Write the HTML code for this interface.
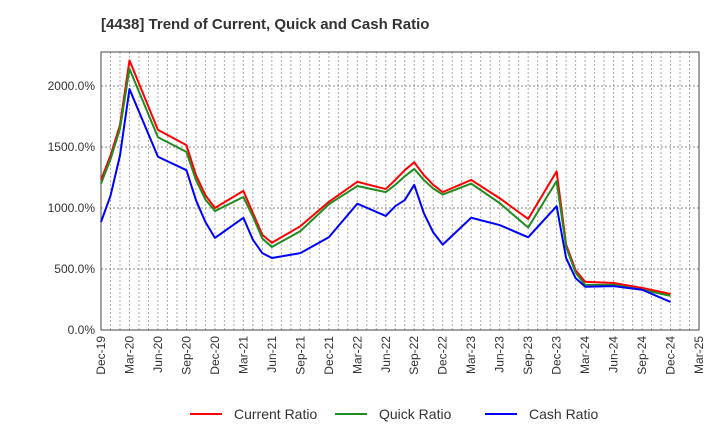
<!DOCTYPE html>
<html><head><meta charset="utf-8"><style>
body{margin:0;background:#fff;font-family:"Liberation Sans",sans-serif;}
svg text{font-family:"Liberation Sans",sans-serif;}
</style></head><body>
<svg id="chart" width="720" height="440">
<text x="101" y="29" font-size="15" font-weight="bold" fill="#333">[4438]  Trend of Current, Quick and Cash Ratio</text>
<g id="grid"></g><g id="axes"></g><g id="series"></g><g id="legend"></g>
</svg>
<script>
const monthIdx=[0,1,2,3,6,9,10,11,12,15,16,17,18,21,24,27,30,31,32,33,34,35,36,39,42,45,48,49,50,51,54,57,60];
const currentRatio=[1230,1430,1680,2210,1640,1515,1270,1105,1000,1140,960,780,715,850,1050,1215,1155,1230,1310,1375,1270,1190,1130,1230,1080,910,1300,700,490,395,385,345,295];
const quickRatio=[1200,1400,1650,2140,1580,1460,1230,1070,975,1090,930,750,680,810,1030,1180,1130,1190,1260,1320,1230,1160,1110,1200,1040,840,1220,680,470,370,370,330,280];
const cashRatio=[885,1100,1430,1975,1420,1310,1065,885,755,920,740,630,590,630,760,1035,935,1015,1065,1190,960,800,700,920,860,760,1015,590,425,355,360,330,230];
const yTicks=[0,500,1000,1500,2000];
const xLabels=["Dec-19","Mar-20","Jun-20","Sep-20","Dec-20","Mar-21","Jun-21","Sep-21","Dec-21","Mar-22","Jun-22","Sep-22","Dec-22","Mar-23","Jun-23","Sep-23","Dec-23","Mar-24","Jun-24","Sep-24","Dec-24","Mar-25"];
const L=101,R=699,T=52,B=330,NM=63;
const xs=m=>L+m*(R-L)/NM;
const ys=v=>B-v*(B-86)/2000;
const NS="http://www.w3.org/2000/svg";
function mk(p,tag,a){const e=document.createElementNS(NS,tag);for(const k in a)e.setAttribute(k,a[k]);p.appendChild(e);return e;}
const grid=document.getElementById('grid'),axes=document.getElementById('axes'),ser=document.getElementById('series'),leg=document.getElementById('legend');
for(let m=1;m<NM;m++){const g=mk(grid,'line',{x1:xs(m),x2:xs(m),y1:T,y2:B,stroke:'#aaa','stroke-dasharray':'2,2','stroke-width':1});

}
yTicks.forEach(v=>{if(v>0){const g=mk(grid,'line',{x1:L,x2:R,y1:ys(v),y2:ys(v),stroke:'#888','stroke-dasharray':'2,2','stroke-width':1});

}
const t=mk(axes,'text',{x:L-6,y:ys(v)+4,'text-anchor':'end','font-size':12,fill:'#333'});t.textContent=v.toFixed(1)+'%';

});
const fr=mk(axes,'rect',{x:L,y:T,width:R-L,height:B-T,fill:'none',stroke:'#444','stroke-width':1});


xLabels.forEach((s,i)=>{const x=xs(i*3);const t=mk(axes,'text',{x:x+4,y:B+6,'text-anchor':'end','font-size':12,fill:'#333',transform:`rotate(-90 ${x+4} ${B+6})`});t.textContent=s;

});
const series=[[currentRatio,'#ff0000','Current Ratio','current-ratio-line'],[quickRatio,'#228b22','Quick Ratio','quick-ratio-line'],[cashRatio,'#0000ff','Cash Ratio','cash-ratio-line']];
series.forEach(([d,c,n,id])=>{const p=mk(ser,'polyline',{points:d.map((v,i)=>xs(monthIdx[i])+','+ys(v)).join(' '),fill:'none',stroke:c,'stroke-width':2,'stroke-linejoin':'round'});

});
const lx=[190,335,485];
series.forEach(([d,c,n,id],i)=>{const g=mk(leg,'g',{});


mk(g,'line',{x1:lx[i],x2:lx[i]+32,y1:414,y2:414,stroke:c,'stroke-width':2});
const t=mk(g,'text',{x:lx[i]+44,y:419,'font-size':14,fill:'#333'});t.textContent=n;});
</script>
</body></html>
